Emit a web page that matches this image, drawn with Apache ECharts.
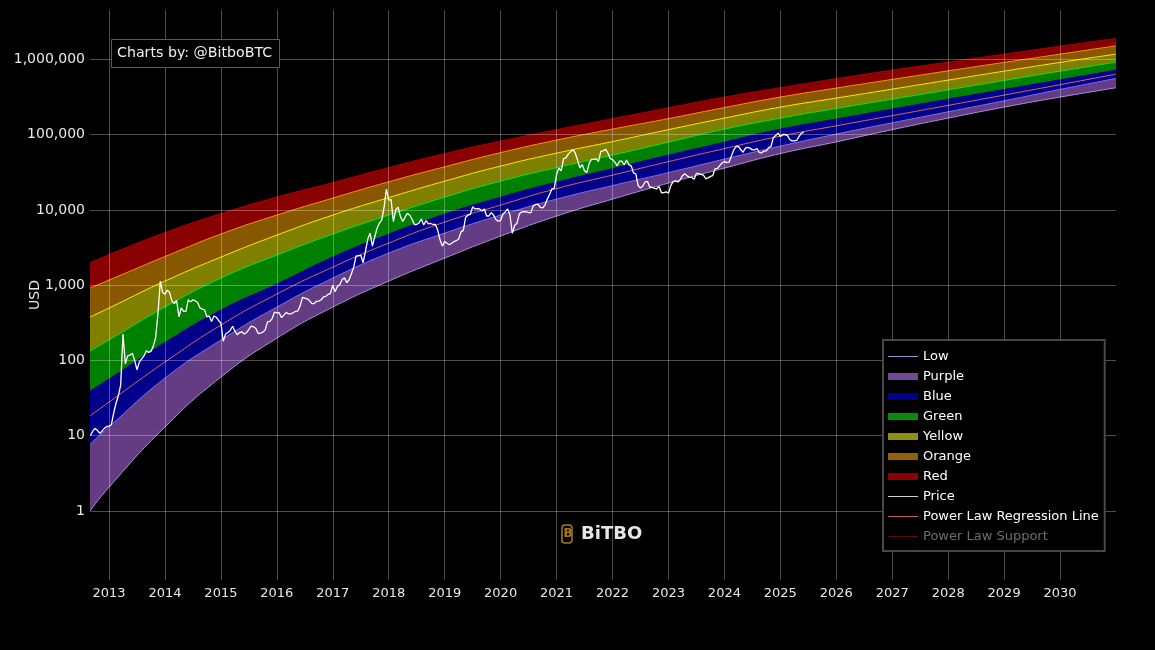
<!DOCTYPE html>
<html><head><meta charset="utf-8">
<style>html,body{margin:0;padding:0;background:#000}#c{width:1155px;height:650px}</style>
<script src="https://cdn.jsdelivr.net/npm/echarts@6/dist/echarts.min.js"></script>
</head><body><div id="c"></div>
<script>
const bandYears = [2012.66,2013,2014,2015,2016,2017,2018,2019,2020,2021,2022,2023,2024,2025,2026,2027,2028,2029,2030,2031];
const redTop = [1966,2547,4992,8933,14790,23040,36480,55980,82000,116400,163000,227000,315000,420700,554000,719000,918000,1172000,1496000,1896000];
const orangeTop = [915,1169,2399,4775,8531,14350,23600,37330,57680,84500,118300,163000,228500,315000,415000,541000,703000,910000,1172000,1510000];
const yellowTop = [377,497,1133,2361,4624,8531,14560,24100,38190,56750,80720,116400,165600,231800,305500,401800,529600,696600,910000,1172000];
const greenTop = [133,187,512,1242,2512,4775,8531,14790,24100,36480,53450,79430,118300,165600,222800,295800,393600,524800,696600,918000];
const blueTop = [39.2,56.6,173,467,1035,2361,4775,8790,14790,23390,35320,53450,79430,118300,160700,218300,295800,398100,534600,719000];
const regression = [18.3,28,95.2,295,762,1738,3622,6887,11590,19190,28970,43750,65160,95500,130900,178600,244300,335000,460300,635300];
const purpleTop = [7.76,13.1,58.3,187,512,1242,2667,4920,8531,13900,21040,31260,47300,70310,101600,143500,200900,281200,398100,557200];
const low = [1,2.08,13.1,60.2,198,512,1133,2291,4487,8279,13900,22700,35890,55980,80170,116400,165600,231800,315000,418800];
const yearTicks = [2013,2014,2015,2016,2017,2018,2019,2020,2021,2022,2023,2024,2025,2026,2027,2028,2029,2030];
const priceStart = 2012 + 8/12;
const price = [
10,11.5,12.5,11.8,10.8,11.5,12.5,13.3,
13.4,14,20,27,34,47,225,90,115,118,125,100,75,95,105,115,135,128,132,155,200,420,1130,800,
760,860,800,620,570,630,380,500,450,450,640,600,640,620,590,500,480,470,380,390,330,390,375,340,
315,180,225,235,250,285,245,220,235,240,225,235,258,285,280,265,228,230,238,255,325,330,360,440,
430,430,370,400,435,415,415,430,450,455,535,690,675,660,625,570,570,610,615,640,700,710,755,780,
1000,820,970,1010,1190,1250,1080,1180,1420,1750,2450,2450,2500,2000,2800,4100,4900,3300,4400,5700,6700,7300,10800,18900,
13500,13700,7000,10000,10900,8200,7000,8000,9000,8500,7500,6400,6400,6700,7600,6300,7200,6500,6600,6400,6400,5400,4000,3300,
3800,3600,3450,3600,3800,3900,4100,5100,5350,8000,8500,8700,11000,10300,10400,10300,9700,10300,8300,8300,9200,8500,7400,7100,
7200,8800,9400,10300,8600,4900,6200,6650,8800,9350,9500,9450,9200,9200,11300,11800,11900,10800,10600,11500,13800,16000,19000,19300,
29500,36000,33000,48000,49000,55000,59000,63000,57000,46000,36000,40000,33000,31500,41500,47000,47000,47500,44000,60000,61000,64000,57000,48000,
47000,43000,38500,44500,44500,39500,46000,40000,38500,31000,30000,21000,19500,20800,23500,24000,20000,20000,19300,19100,20500,16900,17000,17400,
16600,21000,23700,24300,23500,25000,28500,30300,28300,27000,27000,25500,30600,30300,29700,29000,25900,26600,27900,28500,35400,35500,38700,42000,
44000,42500,43000,51800,62400,69500,69700,63400,58300,66200,67700,66100,62700,62800,65300,57500,57300,60500,60800,67000,69500,91000,97000,104500,
94400,100500,100600,97500,86000,82600,82500,83600,94200,103500,108000];

const pair = a => a.map((v,i)=>[bandYears[i],v]);
const priceData = price.map((v,i)=>[priceStart+i/24,v]);
const band = (name,data,fill,line,z)=>({
  name,type:'line',data:pair(data),showSymbol:false,symbol:'none',smooth:0.5,
  lineStyle:{color:line,width:1},itemStyle:{color:line},areaStyle:{color:fill,opacity:1,origin:'start'},z
});
const thin='path://M0 0L0 0M0 6.5H30V7.5H0ZM30 14L30 14';
const thick='path://M0 0L0 0M0 3.5H30V10.5H0ZM30 14L30 14';
const chart = echarts.init(document.getElementById('c'),null,{renderer:'canvas'});
const F='"DejaVu Sans"';
chart.setOption({
  animation:false,backgroundColor:'#000',
  textStyle:{fontFamily:F},
  grid:{left:90,right:39,top:10,bottom:70,containLabel:false,outerBoundsMode:'none'},
  xAxis:{type:'value',min:2012.66,max:2031,z:5,
    axisLine:{show:false},
    axisTick:{show:false,customValues:yearTicks},
    splitLine:{show:true,lineStyle:{color:'rgba(255,255,255,0.3)',width:1}},
    axisLabel:{color:'#e8e8e8',fontSize:13,margin:7,fontFamily:F,hideOverlap:false,
      customValues:yearTicks,
      formatter:v=>String(v)}},
  yAxis:{type:'log',logBase:10,min:0.1213,max:4520000,z:5,
    name:'USD',nameLocation:'middle',nameGap:48,nameRotate:90,nameMoveOverlap:false,
    nameTextStyle:{color:'#e8e8e8',fontSize:14,fontFamily:F},
    axisLine:{show:false},axisTick:{show:false},
    splitLine:{show:true,showMinLine:false,showMaxLine:false,lineStyle:{color:'rgba(255,255,255,0.3)',width:1}},
    axisLabel:{color:'#e8e8e8',fontSize:14,margin:5,padding:[4,0,0,0],fontFamily:F,showMinLabel:false,showMaxLabel:false,
      formatter:v=>{const l=Math.log10(v);return (v>=1&&Math.abs(l-Math.round(l))<1e-6)?Math.round(v).toLocaleString('en-US'):'';}}},
  legend:{left:883,top:340,orient:'vertical',selectedMode:false,padding:[9.5,6,7.5,5],itemGap:6,itemWidth:30,itemHeight:14,
    backgroundColor:'#000',borderColor:'#484848',borderWidth:2,z:20,
    textStyle:{color:'#ffffff',fontSize:13,fontFamily:F},
    data:[
      {name:'Low',icon:thin,itemStyle:{color:'#a98bd8'}},
      {name:'Purple',icon:thick,itemStyle:{color:'#6f4a96'}},
      {name:'Blue',icon:thick,itemStyle:{color:'#00008b'}},
      {name:'Green',icon:thick,itemStyle:{color:'#0a8a0a'}},
      {name:'Yellow',icon:thick,itemStyle:{color:'#8f8f10'}},
      {name:'Orange',icon:thick,itemStyle:{color:'#92600c'}},
      {name:'Red',icon:thick,itemStyle:{color:'#8b0000'}},
      {name:'Price',icon:thin,itemStyle:{color:'#d0d0d0'}},
      {name:'Power Law Regression Line',icon:thin,itemStyle:{color:'#c0605a'}},
      {name:'Power Law Support',icon:thin,itemStyle:{color:'#5a0a0a'},textStyle:{color:'#6e6e6e'}}
    ]},
  series:[
    band('Red',redTop,'#880000','#a80000',2),
    band('Orange',orangeTop,'#885800','#ff8c1a',2),
    band('Yellow',yellowTop,'#808000','#ffea00',2),
    band('Green',greenTop,'#008000','#16e016',2),
    band('Blue',blueTop,'#00008b','#00009a',2),
    band('Purple',purpleTop,'#643c84','#7f6cf0',2),
    band('Low',low,'#000000','#b08fe0',2),
    {name:'Power Law Regression Line',type:'line',data:pair(regression),symbol:'none',smooth:0.5,
      lineStyle:{color:'#d06a62',width:1},itemStyle:{color:'#d06a62'},z:3},
    {name:'Price',type:'line',data:priceData,symbol:'none',lineStyle:{color:'#ffffff',width:1.3},itemStyle:{color:'#fff'},z:7},
    {name:'Power Law Support',type:'line',data:[],symbol:'none',lineStyle:{color:'#5a0a0a',width:1},itemStyle:{color:'#5a0a0a'},z:3}
  ],
  graphic:[
    {type:'rect',z:30,shape:{x:111.5,y:39.5,width:168,height:28},style:{fill:'#000',stroke:'#5a5a5a',lineWidth:1}},
    {type:'text',z:31,x:117,y:53.5,style:{text:'Charts by: @BitboBTC',fill:'#f0f0f0',font:'14.2px "DejaVu Sans"',verticalAlign:'middle'}},
    {type:'rect',z:30,shape:{x:562,y:525,width:10,height:18,r:3},style:{fill:'none',stroke:'#a8781f',lineWidth:1.5}},
    {type:'text',z:31,x:563.5,y:534,style:{text:'B',fill:'#a8781f',font:'bold 12px "DejaVu Sans"',verticalAlign:'middle'}},
    {type:'text',z:31,x:581,y:534,style:{text:'BiTBO',fill:'#e6e6e6',font:'bold 18px "DejaVu Sans"',verticalAlign:'middle'}}
  ]
});
</script></body></html>
